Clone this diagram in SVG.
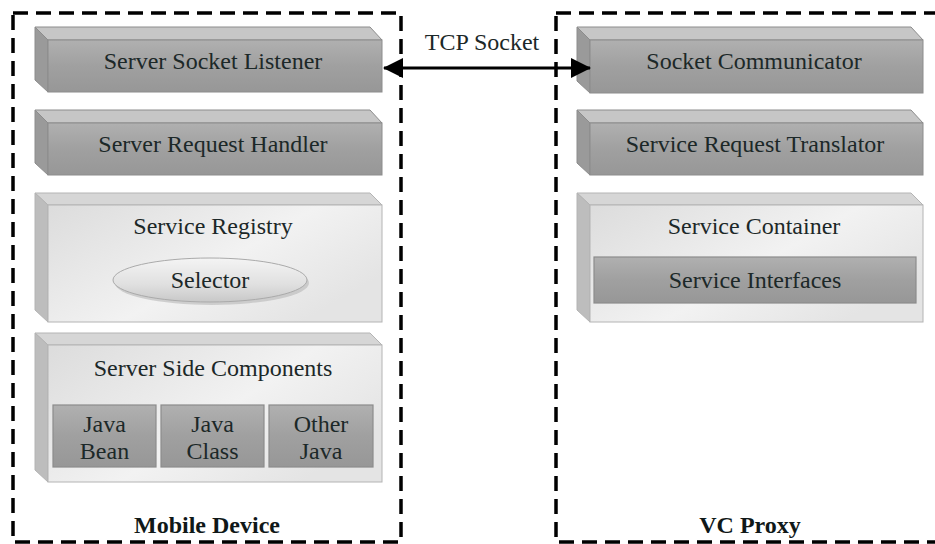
<svg xmlns="http://www.w3.org/2000/svg" width="935" height="544" viewBox="0 0 935 544">
<defs>
<linearGradient id="darkFront" x1="0" y1="0" x2="0" y2="1">
<stop offset="0" stop-color="#b0b0b0"/><stop offset="0.5" stop-color="#a0a0a0"/><stop offset="1" stop-color="#979797"/>
</linearGradient>
<linearGradient id="lightFront" x1="0" y1="0" x2="1" y2="0.6">
<stop offset="0" stop-color="#dcdcdc"/><stop offset="0.6" stop-color="#f2f2f2"/><stop offset="1" stop-color="#e4e4e4"/>
</linearGradient>
<linearGradient id="ellGrad" x1="0" y1="0" x2="0" y2="1">
<stop offset="0" stop-color="#f4f4f4"/><stop offset="0.6" stop-color="#e0e0e0"/><stop offset="1" stop-color="#c8c8c8"/>
</linearGradient>
<marker id="ah" viewBox="0 0 20 20" refX="19" refY="10" markerWidth="20" markerHeight="20" markerUnits="userSpaceOnUse" orient="auto-start-reverse">
<path d="M0,0 L20,10 L0,20 Z" fill="#000"/>
</marker>
<style>
.dash{fill:none;stroke:#000;stroke-width:3.5;stroke-dasharray:15 8}
.dfront{fill:url(#darkFront);stroke:#8c8c8c;stroke-width:1}
.dtop{fill:#c6c6c6;stroke:#8c8c8c;stroke-width:1}
.dside{fill:#9a9a9a;stroke:#8c8c8c;stroke-width:1}
.lfront{fill:url(#lightFront);stroke:#b4b4b4;stroke-width:1}
.ltop{fill:#d6d6d6;stroke:#b4b4b4;stroke-width:1}
.lside{fill:#bdbdbd;stroke:#b4b4b4;stroke-width:1}
.inner{fill:url(#darkFront);stroke:#8c8c8c;stroke-width:1.2}
.t{font-family:"Liberation Serif","Times New Roman",serif;font-size:24px;fill:#1c2828;text-anchor:middle}
.b{font-family:"Liberation Serif","Times New Roman",serif;font-size:24px;font-weight:bold;fill:#101818;text-anchor:middle}
</style>
</defs>
<rect width="935" height="544" fill="#fff"/>

<g id="mobile-device">
<rect class="dash" x="13" y="13" width="388" height="529"/>
<text class="b" x="207" y="533">Mobile Device</text>
</g>
<g id="vc-proxy">
<rect class="dash" x="556" y="13" width="400" height="529"/>
<text class="b" x="750" y="533">VC Proxy</text>
</g>

<g id="server-socket-listener">
<polygon class="dtop" points="35,27 370,27 382,40 48,40"/>
<polygon class="dside" points="35,27 48,40 48,92 35,80"/>
<rect class="dfront" x="48" y="40" width="334" height="52"/>
<text class="t" x="213" y="69">Server Socket Listener</text>
</g>

<g id="server-request-handler">
<polygon class="dtop" points="35,110 370,110 382,123 48,123"/>
<polygon class="dside" points="35,110 48,123 48,175 35,163"/>
<rect class="dfront" x="48" y="123" width="334" height="52"/>
<text class="t" x="213" y="152">Server Request Handler</text>
</g>

<g id="service-registry">
<polygon class="ltop" points="35,193 370,193 382,205 48,205"/>
<polygon class="lside" points="35,193 48,205 48,322 35,310"/>
<rect class="lfront" x="48" y="205" width="334" height="117"/>
<text class="t" x="213" y="234">Service Registry</text>
</g>
<g id="selector">
<ellipse cx="212" cy="283" rx="97" ry="22" fill="#b8b8b8" opacity="0.6"/>
<ellipse cx="210" cy="280" rx="97" ry="22" fill="url(#ellGrad)" stroke="#aaaaaa" stroke-width="1"/>
<text class="t" x="210" y="288">Selector</text>
</g>

<g id="server-side-components">
<polygon class="ltop" points="35,333 370,333 382,345 48,345"/>
<polygon class="lside" points="35,333 48,345 48,482 35,470"/>
<rect class="lfront" x="48" y="345" width="334" height="137"/>
<text class="t" x="213" y="376">Server Side Components</text>
</g>
<g id="java-bean">
<rect class="inner" x="53" y="405" width="103" height="62"/>
<text class="t" x="104.5" y="432">Java</text>
<text class="t" x="104.5" y="459">Bean</text>
</g>
<g id="java-class">
<rect class="inner" x="161" y="405" width="103" height="62"/>
<text class="t" x="212.5" y="432">Java</text>
<text class="t" x="212.5" y="459">Class</text>
</g>
<g id="other-java">
<rect class="inner" x="269" y="405" width="104" height="62"/>
<text class="t" x="321" y="432">Other</text>
<text class="t" x="321" y="459">Java</text>
</g>

<g id="socket-communicator">
<polygon class="dtop" points="577,27 911,27 923,40 590,40"/>
<polygon class="dside" points="577,27 590,40 590,93 577,81"/>
<rect class="dfront" x="590" y="40" width="333" height="53"/>
<text class="t" x="754" y="69">Socket Communicator</text>
</g>

<g id="service-request-translator">
<polygon class="dtop" points="577,110 911,110 923,123 590,123"/>
<polygon class="dside" points="577,110 590,123 590,175 577,163"/>
<rect class="dfront" x="590" y="123" width="333" height="52"/>
<text class="t" x="755" y="152">Service Request Translator</text>
</g>

<g id="service-container">
<polygon class="ltop" points="577,193 911,193 923,205 590,205"/>
<polygon class="lside" points="577,193 590,205 590,322 577,310"/>
<rect class="lfront" x="590" y="205" width="333" height="117"/>
<text class="t" x="754" y="234">Service Container</text>
</g>
<g id="service-interfaces">
<rect class="inner" x="594" y="257" width="322" height="46"/>
<text class="t" x="755" y="288">Service Interfaces</text>
</g>

<g id="connectors">
<line x1="384" y1="68" x2="590" y2="68" stroke="#000" stroke-width="3" marker-start="url(#ah)" marker-end="url(#ah)"/>
<text class="t" x="482" y="50">TCP Socket</text>
</g>
</svg>
